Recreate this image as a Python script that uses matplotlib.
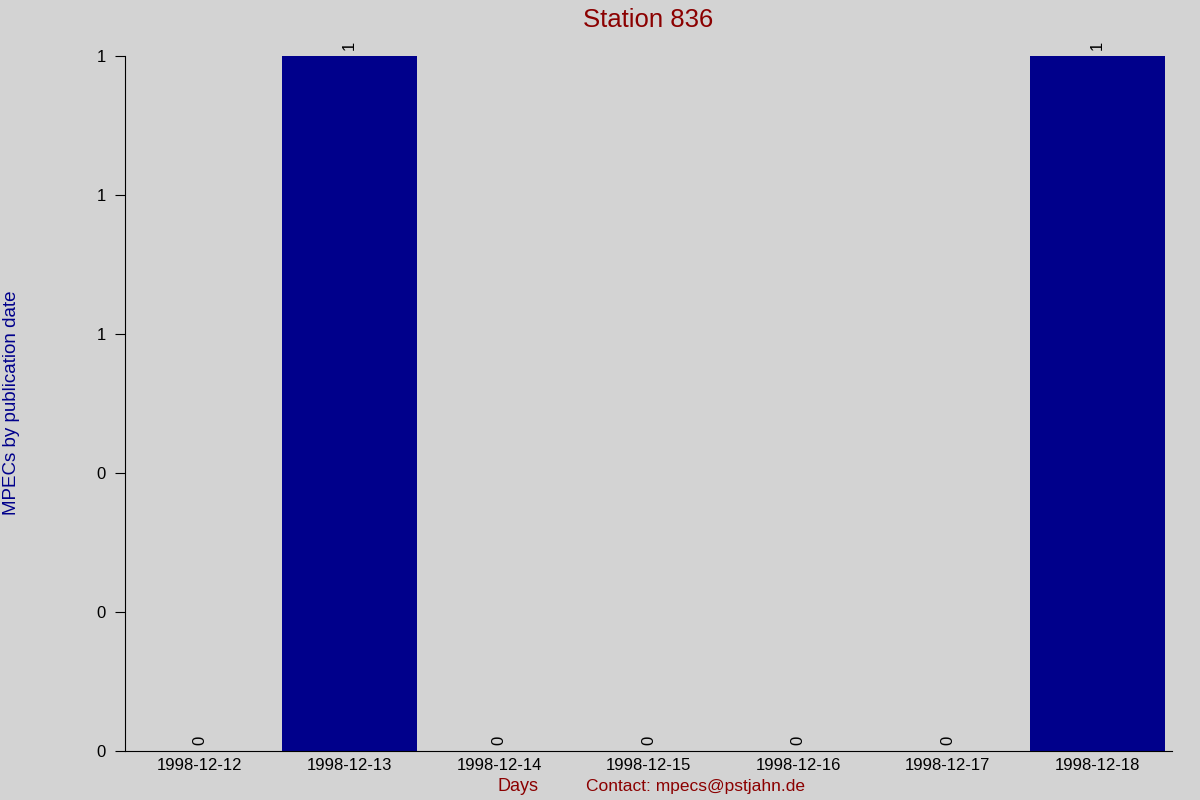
import matplotlib
matplotlib.use("Agg")
import matplotlib.pyplot as plt
from matplotlib.ticker import FuncFormatter

days = ["1998-12-12", "1998-12-13", "1998-12-14", "1998-12-15",
        "1998-12-16", "1998-12-17", "1998-12-18"]
counts = [0, 1, 0, 0, 0, 0, 1]
yticks = [0, 0.2, 0.4, 0.6, 0.8, 1.0]

plt.rcParams['font.family'] = ['Liberation Sans', 'DejaVu Sans']
bg = '#d3d3d3'
fig = plt.figure(figsize=(12, 8), dpi=100, facecolor=bg)
ax = fig.add_axes([0.1042, 0.06125, 0.8725, 0.86875], facecolor=bg)

x = list(range(len(days)))
ax.bar(x, counts, width=0.9, color='#00008b')
for xi, c in zip(x, counts):
    ax.annotate(str(c), (xi, c), xytext=(0, 4), textcoords='offset points',
                rotation=90, ha='center', va='bottom', fontsize=12)

ax.set_xlim(-0.5, len(days) - 0.5)
ax.set_ylim(0, 1)
ax.set_yticks(yticks)
ax.yaxis.set_major_formatter(FuncFormatter(lambda v, p: f"{v:.0f}"))
ax.set_xticks(x)
ax.set_xticklabels(days)
ax.tick_params(axis='x', length=0, labelsize=12, pad=5)
ax.tick_params(axis='y', length=7, labelsize=12, pad=7)
for s in ['top', 'right']:
    ax.spines[s].set_visible(False)

fig.text(0.54, 0.975, "Station 836", ha='center', va='center',
         fontsize=18.5, color='#8b0000')
fig.text(0.01, 0.496, "MPECs by publication date", rotation=90,
         ha='center', va='center', fontsize=13.5, color='#00008b')
fig.text(0.432, 0.017, "Days", ha='center', va='center',
         fontsize=13, color='#8b0000')
fig.text(0.58, 0.017, "Contact: mpecs@pstjahn.de", ha='center', va='center',
         fontsize=12.5, color='#8b0000')

fig.savefig("out.png", dpi=100, facecolor=bg)
